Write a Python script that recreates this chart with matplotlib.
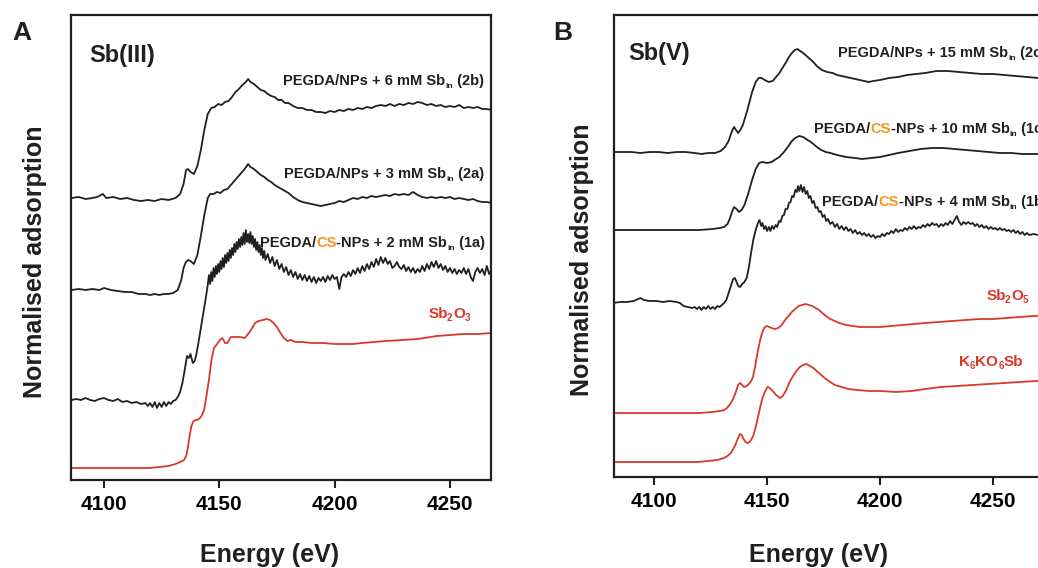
import numpy as np
import matplotlib
matplotlib.use('Agg')
import matplotlib.pyplot as plt

# ---- data: (energy eV, stacked normalised adsorption, arbitrary units) ----
# panel A, Sb(III)
a_2b = np.array([
    (4086, 282), (4089, 283), (4092, 281), (4095, 282), (4097, 283), (4099.5, 286), (4101, 282),
    (4104, 283), (4107, 281), (4110, 282), (4113, 280), (4116, 279), (4119, 280), (4122, 279),
    (4125, 281), (4128, 280), (4131, 282), (4133, 286), (4134.5, 296), (4135.6, 310), (4136.5, 311),
    (4137.5, 308), (4139, 306), (4140.5, 314), (4142, 330), (4143.5, 350), (4145, 366), (4146.5, 372),
    (4148, 373), (4149.5, 376), (4151, 375), (4152.5, 378), (4154, 379), (4155.5, 383), (4157, 388),
    (4158.5, 391), (4160, 395), (4161.5, 398), (4162.5, 401), (4163.5, 398), (4165, 396), (4166.5, 393),
    (4168, 390), (4169.5, 389), (4171, 386), (4172.5, 384), (4174, 383), (4175.5, 380), (4177, 380),
    (4178.5, 377), (4180, 377), (4182, 374), (4184, 372), (4186, 372), (4188, 370), (4190, 370),
    (4192, 368), (4194, 368), (4196, 367), (4198, 369), (4200, 368), (4202, 370), (4204, 369),
    (4206, 371), (4208, 370), (4210, 372), (4212, 371), (4214, 373), (4216, 372), (4218, 374),
    (4220, 375), (4222, 374), (4224, 376), (4226, 374), (4228, 376), (4230, 375), (4232, 377),
    (4234, 376), (4236, 378), (4238, 377), (4240, 375), (4242, 376), (4244, 374), (4246, 375),
    (4248, 373), (4250, 374), (4252, 373), (4254, 375), (4256, 372), (4258, 373), (4260, 372),
    (4262, 373), (4264, 371), (4266, 371), (4268, 370)])

a_2a = np.array([
    (4086, 190), (4089, 191), (4092, 190), (4095, 191), (4098, 190), (4100, 192), (4103, 190),
    (4106, 189), (4109, 188), (4112, 188), (4115, 186), (4118, 186), (4120, 185), (4122, 186),
    (4124, 185), (4126, 186), (4128, 186), (4130, 187), (4132, 190), (4133.5, 200), (4134.5, 212),
    (4135.5, 218), (4136.5, 220), (4137.5, 219), (4139, 216), (4140.5, 225), (4142, 244), (4143.5, 265),
    (4145, 282), (4146, 286), (4147.5, 286), (4149, 288), (4150.5, 287), (4152, 290), (4153.5, 291),
    (4155, 295), (4156.5, 299), (4158, 303), (4159.5, 307), (4161, 311), (4162.5, 316), (4163.5, 313),
    (4165, 311), (4166.5, 308), (4168, 305), (4169.5, 303), (4171, 300), (4172.5, 298), (4174, 295),
    (4175.5, 293), (4177, 291), (4178.5, 289), (4180, 287), (4182, 283), (4184, 280), (4186, 278),
    (4188, 277), (4190, 276), (4192, 275), (4194, 274), (4196, 275), (4198, 276), (4200, 277),
    (4202, 279), (4204, 278), (4206, 280), (4208, 282), (4210, 281), (4212, 283), (4214, 282),
    (4216, 284), (4218, 283), (4220, 284), (4222, 285), (4224, 284), (4226, 286), (4228, 285),
    (4230, 286), (4232, 285), (4234, 288), (4236, 285), (4238, 283), (4240, 282), (4242, 283),
    (4244, 282), (4246, 283), (4248, 282), (4250, 283), (4252, 281), (4254, 282), (4256, 281),
    (4258, 280), (4260, 281), (4262, 279), (4264, 278), (4266, 278), (4268, 277)])

a_1a = np.array([
    (4086, 80), (4088, 81), (4090, 80), (4092, 82), (4094, 80), (4096, 79), (4098, 81), (4100, 82),
    (4102, 80), (4104, 79), (4106, 81), (4108, 78), (4110, 79), (4112, 77), (4114, 78), (4116, 76),
    (4118, 77), (4119, 74), (4120, 77), (4121, 73), (4122, 78), (4123, 72), (4124, 77), (4125, 73),
    (4126, 78), (4127, 74), (4128, 78), (4129, 76), (4130, 79), (4131, 80), (4132, 83), (4133, 88),
    (4134, 97), (4135, 110), (4136, 124), (4136.8, 122), (4137.5, 126), (4138.5, 117), (4139.3, 119),
    (4140, 125), (4141, 138), (4142, 152), (4143, 166), (4144, 180), (4145, 195), (4145.5, 205),
    (4146, 196), (4146.5, 208), (4147, 199), (4147.5, 212), (4148, 203), (4148.5, 214), (4149, 206),
    (4149.5, 216), (4150, 208), (4150.5, 219), (4151, 211), (4151.5, 222), (4152, 213), (4152.5, 225),
    (4153, 217), (4153.5, 227), (4154, 219), (4154.5, 230), (4155, 222), (4155.5, 232), (4156, 225),
    (4156.5, 236), (4157, 228), (4157.5, 238), (4158, 231), (4158.5, 241), (4159, 233), (4159.5, 243),
    (4160, 235), (4160.5, 247), (4161, 236), (4161.5, 250), (4162, 238), (4162.5, 246), (4163, 237),
    (4163.5, 248), (4164, 236), (4164.5, 244), (4165, 233), (4165.5, 241), (4166, 230), (4166.5, 238),
    (4167, 228), (4167.5, 235), (4168, 225), (4168.5, 232), (4169, 222), (4169.5, 229), (4170, 220),
    (4171, 226), (4172, 217), (4173, 223), (4174, 214), (4175, 220), (4176, 211), (4177, 216),
    (4178, 208), (4179, 213), (4180, 205), (4181, 210), (4182, 203), (4183, 208), (4184, 201),
    (4185, 206), (4186, 200), (4187, 205), (4188, 199), (4189, 204), (4190, 198), (4191, 203),
    (4192, 197), (4193, 202), (4194, 199), (4195, 203), (4196, 198), (4197, 204), (4198, 200),
    (4199, 205), (4200, 201), (4201, 203), (4202, 191), (4203, 203), (4204, 206), (4205, 203),
    (4206, 208), (4207, 204), (4208, 210), (4209, 206), (4210, 212), (4211, 207), (4212, 214),
    (4213, 209), (4214, 216), (4215, 211), (4216, 218), (4217, 213), (4218, 221), (4219, 215),
    (4220, 223), (4221, 217), (4222, 222), (4223, 216), (4224, 219), (4225, 212), (4226, 214),
    (4227, 218), (4228, 213), (4229, 211), (4230, 215), (4231, 209), (4232, 213), (4233, 208),
    (4234, 212), (4235, 207), (4236, 211), (4237, 208), (4238, 214), (4239, 209), (4240, 216),
    (4241, 211), (4242, 218), (4243, 213), (4244, 219), (4245, 212), (4246, 216), (4247, 210),
    (4248, 214), (4249, 208), (4250, 212), (4251, 207), (4252, 211), (4253, 206), (4254, 210),
    (4255, 207), (4256, 212), (4257, 206), (4258, 211), (4259, 203), (4260, 199), (4261, 208),
    (4262, 212), (4263, 207), (4264, 211), (4265, 205), (4266, 214), (4267, 206), (4268, 210)])

a_sb2o3 = np.array([
    (4086, 12), (4095, 12), (4105, 12), (4115, 12), (4120, 12), (4124, 13), (4128, 14), (4131, 16),
    (4133, 18), (4134.7, 20), (4135.8, 25), (4136.4, 33), (4137.2, 45), (4137.9, 54), (4138.8, 59),
    (4140, 60), (4141.2, 61), (4142.3, 64), (4143.4, 70), (4144.3, 82), (4145.5, 100), (4146.6, 120),
    (4147.7, 132), (4149, 136), (4150.3, 140), (4151.3, 142), (4152.5, 137), (4153.5, 137), (4155, 143),
    (4157, 143), (4159, 143), (4161, 142), (4162.5, 146), (4164, 151), (4165.5, 157), (4167, 159),
    (4169, 160), (4170.5, 161), (4172, 160), (4173.5, 157), (4175, 153), (4176.5, 147), (4178, 142),
    (4179.5, 139), (4181, 140), (4183, 138), (4186.3, 138), (4190, 137), (4195, 137), (4200, 136),
    (4205, 136), (4208, 136), (4212, 137), (4217, 138), (4222, 139), (4229.7, 140), (4236, 141),
    (4244.4, 144), (4250, 145), (4256, 146), (4262, 146), (4268, 147)])

# panel B, Sb(V)
b_2c = np.array([
    (4082, 325), (4086, 325), (4090, 325), (4094, 324), (4098, 325), (4102, 325), (4106, 324),
    (4110, 325), (4114, 325), (4118, 324), (4121, 323), (4124, 324), (4127, 324), (4129.5, 326),
    (4131.4, 330), (4133, 336), (4134.5, 346), (4135.4, 350), (4136.3, 347), (4137.2, 344),
    (4138.2, 347), (4139.3, 352), (4141.2, 366), (4143.4, 385), (4145, 395), (4146.3, 399),
    (4147.5, 399), (4149, 397), (4150.7, 395), (4152.5, 396), (4154, 400), (4155.5, 404),
    (4157.1, 410), (4158.5, 415), (4159.7, 420), (4161, 424), (4162.3, 427), (4163.5, 428),
    (4164.7, 426), (4166, 424), (4167.5, 421), (4169, 418), (4170.5, 415), (4172, 411), (4174.3, 407),
    (4176.6, 405), (4179, 404), (4181, 402), (4183, 401), (4185, 400), (4187, 399), (4189, 398),
    (4191, 397), (4193, 396), (4195, 395), (4197, 396), (4200, 397), (4204, 399), (4208, 400),
    (4212, 402), (4216, 403), (4220, 404), (4225, 406), (4230, 406), (4235, 405), (4240, 404),
    (4245, 403), (4250, 403), (4255, 402), (4260, 401), (4265, 400), (4270, 399), (4276, 398)])

b_1c = np.array([
    (4082, 247), (4090, 247), (4100, 247), (4110, 247), (4120, 247), (4126, 248), (4129, 249),
    (4131, 250), (4132.5, 253), (4133.5, 258), (4134.5, 265), (4135.4, 270), (4136.5, 268),
    (4137.6, 265), (4138.8, 267), (4140, 272), (4141.5, 282), (4143.4, 297), (4145, 308),
    (4146.5, 314), (4148, 315), (4150, 314), (4152, 315), (4154, 318), (4155.5, 320), (4157.5, 325),
    (4159.5, 331), (4161, 336), (4162.5, 339), (4164.2, 341), (4166, 340), (4168, 337), (4170, 334),
    (4172, 330), (4174, 327), (4176, 325), (4178, 324), (4181, 322), (4185, 320), (4189, 319),
    (4192, 318), (4196, 319), (4200, 320), (4204, 322), (4208, 324), (4213, 326), (4218, 328),
    (4223, 329), (4228, 329), (4233, 328), (4238, 327), (4243, 326), (4248, 325), (4253, 324),
    (4258, 324), (4263, 323), (4270, 323), (4276, 323)])

b_1b = np.array([
    (4082, 174), (4085, 175), (4088, 175), (4091, 176), (4093, 178), (4094, 179), (4095.5, 177),
    (4098, 176), (4101, 176), (4104, 175), (4107, 176), (4110, 175), (4111.5, 174), (4113, 171),
    (4115, 170), (4117, 169), (4118, 170), (4119, 168), (4120, 170), (4121, 167), (4122, 170),
    (4123, 168), (4124, 171), (4125, 168), (4126, 170), (4127, 168), (4128, 171), (4129, 170),
    (4130, 172), (4131, 174), (4132, 177), (4133, 184), (4134, 191), (4135, 198), (4135.8, 199),
    (4136.5, 195), (4137.3, 191), (4138.1, 190), (4139, 193), (4140, 195), (4141, 199), (4142, 210),
    (4143, 225), (4144, 238), (4145, 247), (4146, 254), (4146.7, 257), (4147.4, 251), (4148, 254),
    (4148.7, 248), (4149.4, 251), (4150, 246), (4150.8, 250), (4151.5, 246), (4152.2, 251),
    (4153, 248), (4153.8, 252), (4154.5, 250), (4155.3, 256), (4156, 255), (4156.8, 261),
    (4157.5, 262), (4158.2, 268), (4159, 268), (4159.7, 274), (4160.4, 275), (4161.1, 281),
    (4161.8, 280), (4162.5, 287), (4163.2, 285), (4163.7, 291), (4164.3, 286), (4165, 292),
    (4165.7, 285), (4166.4, 290), (4167.1, 283), (4167.8, 286), (4168.5, 279), (4169.2, 281),
    (4170, 274), (4170.7, 276), (4171.5, 269), (4172.3, 270), (4173, 265), (4173.8, 266),
    (4174.6, 260), (4175.4, 262), (4176.2, 256), (4177, 258), (4177.9, 253), (4179, 255), (4180, 250),
    (4181, 253), (4182, 248), (4183, 251), (4184, 247), (4185, 250), (4186, 246), (4187, 248),
    (4188, 244), (4189, 247), (4190, 243), (4191, 245), (4192, 242), (4193, 244), (4194, 241),
    (4195, 243), (4196, 240), (4197, 242), (4198, 239), (4199, 241), (4200, 240), (4201, 243),
    (4202, 241), (4203, 244), (4204, 243), (4205, 246), (4206, 244), (4207, 248), (4208, 245),
    (4209, 247), (4210, 246), (4211, 249), (4212, 247), (4213, 250), (4214, 248), (4215, 251),
    (4216, 248), (4217, 250), (4218, 249), (4219, 252), (4220, 250), (4221, 253), (4222, 251),
    (4223, 254), (4224, 252), (4225, 253), (4226, 250), (4227, 253), (4228, 251), (4229, 254),
    (4230, 252), (4231, 256), (4232, 253), (4233, 257), (4234, 261), (4235, 255), (4236, 252),
    (4237, 255), (4238, 253), (4239, 255), (4240, 253), (4241, 254), (4242, 251), (4243, 253),
    (4244, 250), (4245, 252), (4246, 249), (4247, 251), (4248, 248), (4249, 250), (4250, 248),
    (4251, 249), (4252, 247), (4253, 249), (4254, 247), (4255, 248), (4256, 246), (4257, 247),
    (4258, 245), (4259, 247), (4260, 244), (4261, 246), (4262, 243), (4263, 245), (4264, 242),
    (4265, 244), (4266, 242), (4268, 243), (4270, 242), (4273, 242), (4276, 241)])

b_sb2o5 = np.array([
    (4082, 64), (4090, 64), (4100, 64), (4110, 64), (4120, 64), (4126, 65), (4129, 66), (4131, 67),
    (4132.3, 69), (4133.7, 73), (4135, 78), (4136.2, 85), (4137.2, 92), (4138.1, 94), (4139, 92),
    (4139.8, 90), (4141, 91), (4142, 93), (4143, 96), (4143.8, 100), (4144.7, 110), (4145.6, 122),
    (4146.5, 132), (4147.4, 141), (4148.3, 147), (4149.1, 150), (4150, 151), (4151, 150), (4152, 149),
    (4153.5, 148), (4155, 149), (4156.5, 152), (4158, 157), (4159.5, 161), (4161, 165), (4162.5, 168),
    (4164, 171), (4165.5, 172), (4167, 173), (4168.5, 172), (4170, 171), (4171.5, 169), (4173, 167),
    (4174.5, 164), (4176, 161), (4178, 158), (4180, 156), (4182, 154), (4185, 152), (4188, 151),
    (4191, 150), (4195, 150), (4200, 150), (4205, 151), (4210, 152), (4215, 153), (4220, 154),
    (4226, 155), (4232, 156), (4238, 157), (4244, 158), (4250, 158), (4256, 159), (4262, 160),
    (4268, 161), (4276, 162)])

b_k6ko6sb = np.array([
    (4082, 15), (4090, 15), (4100, 15), (4110, 15), (4119, 15), (4124, 16), (4128, 17), (4131, 19),
    (4132.5, 21), (4134, 24), (4135, 28), (4136, 32), (4137, 38), (4138, 43), (4138.8, 42),
    (4139.6, 38), (4140.5, 35), (4141.3, 34), (4142.3, 35), (4143.2, 38), (4144, 42), (4145, 50),
    (4146, 60), (4147, 70), (4148, 79), (4149, 85), (4150.2, 90), (4151.2, 89), (4152.5, 86),
    (4154, 82), (4155.8, 79), (4157, 81), (4158.5, 87), (4160, 95), (4161.5, 101), (4163, 106),
    (4164.5, 110), (4166, 112), (4167.5, 113), (4169, 111), (4170.5, 109), (4172, 106), (4174, 102),
    (4176, 98), (4178, 95), (4180, 92), (4183, 90), (4186, 88), (4190, 87), (4195, 86), (4200, 86),
    (4207, 85), (4214, 86), (4220, 88), (4227, 90), (4234, 91), (4241, 92), (4248, 93), (4255, 94),
    (4262, 95), (4269, 96), (4276, 96)])

energy_ticks = [4100, 4150, 4200, 4250]

BLACK = '#231f20'
RED = '#d83a2a'
ORANGE = '#f7941d'

plt.rcParams['font.family'] = 'Liberation Sans'
plt.rcParams['font.weight'] = 'bold'

W, H = 1038, 568
fig = plt.figure(figsize=(W / 100, H / 100), dpi=100)


def px_axes(left, top, right, bottom):
    return fig.add_axes([left / W, 1 - bottom / H, (right - left) / W, (bottom - top) / H])


axA = px_axes(71, 15, 491, 480)
axB = px_axes(614, 15, 1050, 477)

for d in [a_2b, a_2a, a_1a]:
    axA.plot(d[:, 0], d[:, 1], color=BLACK, lw=1.3)
axA.plot(a_sb2o3[:, 0], a_sb2o3[:, 1], color=RED, lw=1.3)
for d in [b_2c, b_1c, b_1b]:
    axB.plot(d[:, 0], d[:, 1], color=BLACK, lw=1.3)
for d in [b_sb2o5, b_k6ko6sb]:
    axB.plot(d[:, 0], d[:, 1], color=RED, lw=1.3)

axA.set_xlim(4085.7, 4267.8)
axA.set_ylim(0, 465)
axB.set_xlim(4082.3, 4275.2)
axB.set_ylim(0, 462)
for ax in [axA, axB]:
    ax.set_xticks(energy_ticks)
    ax.set_yticks([])
    ax.tick_params(axis='x', direction='out', length=6, width=1.5, labelsize=15, pad=5, color=BLACK)
    for sp in ax.spines.values():
        sp.set_linewidth(1.6)
        sp.set_color(BLACK)

renderer = fig.canvas.get_renderer()
FS = 10.5


def txt(s, c=BLACK, size=FS, dx=0):
    return (s, c, size, 0, dx)


def sub(s, c=BLACK, size=6, dx=0):
    return (s, c, size, 3, dx)


def label(x, y, parts, ha='left'):
    # x, y in image pixels from the top-left corner, y is the baseline
    texts = [fig.text(0, 1 - (y + dy) / H, s, color=c, fontsize=fs, va='baseline', ha='left')
             for s, c, fs, dy, dx in parts]
    widths = [t.get_window_extent(renderer).width + p[4] for t, p in zip(texts, parts)]
    if ha == 'right':
        x -= sum(widths)
    for t, p, w in zip(texts, parts, widths):
        t.set_x((x + p[4]) / W)
        x += w


# panel A texts
label(12, 40, [txt('A', size=19)])
label(89, 62, [txt('Sb(III)', size=17)])
label(484, 85, [txt('PEGDA/NPs + 6 mM Sb'), sub('in'), txt(' (2b)')], ha='right')
label(484, 178, [txt('PEGDA/NPs + 3 mM Sb'), sub('in'), txt(' (2a)')], ha='right')
label(485, 247, [txt('PEGDA/'), txt('CS', ORANGE), txt('-NPs + 2 mM Sb'), sub('in'), txt(' (1a)')], ha='right')
label(429, 318, [txt('Sb', RED, 11), sub('2', RED, 7, dx=-1.5), txt('O', RED, 11, dx=0.5), sub('3', RED, 7)])

# panel B texts
label(553, 40, [txt('B', size=19)])
label(628, 60, [txt('Sb(V)', size=17)])
label(838, 57, [txt('PEGDA/NPs + 15 mM Sb'), sub('in'), txt(' (2c)')])
label(814, 133, [txt('PEGDA/'), txt('CS', ORANGE), txt('-NPs + 10 mM Sb'), sub('in'), txt(' (1c)')])
label(822, 206, [txt('PEGDA/'), txt('CS', ORANGE), txt('-NPs + 4 mM Sb'), sub('in'), txt(' (1b)')])
label(987, 300, [txt('Sb', RED, 11), sub('2', RED, 7, dx=-1.5), txt('O', RED, 11, dx=0.5), sub('5', RED, 7)])
label(959, 366, [txt('K', RED, 11), sub('6', RED, 7), txt('KO', RED, 11), sub('6', RED, 7), txt('Sb', RED, 11)])

# axis titles
for xc in [270, 819]:
    fig.text(xc / W, 1 - 562 / H, 'Energy (eV)', fontsize=18, ha='center', va='baseline', color=BLACK)
for xc, yc in [(35, 262), (582, 260)]:
    fig.text(xc / W, 1 - yc / H, 'Normalised adsorption', fontsize=18, rotation=90,
             ha='center', va='center', color=BLACK)

fig.savefig('out.png', dpi=100)
